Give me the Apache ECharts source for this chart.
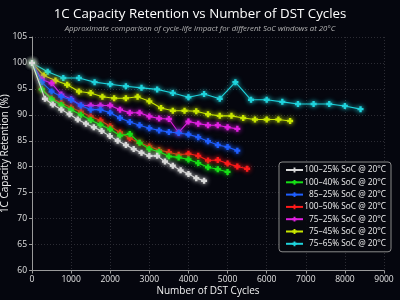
<!DOCTYPE html>
<html>
<head>
<meta charset="utf-8">
<script src="https://cdn.jsdelivr.net/npm/echarts@6/dist/echarts.min.js"></script>
<style>
html,body{margin:0;padding:0;background:#05060e;}
#chart{width:400px;height:300px;}
</style>
</head>
<body>
<div id="chart"></div>
<script>
// cycles (x) and retention (%) per SoC window
var names = ['100–25% SoC @ 20°C','100–40% SoC @ 20°C','85–25% SoC @ 20°C','100–50% SoC @ 20°C','75–25% SoC @ 20°C','75–45% SoC @ 20°C','75–65% SoC @ 20°C'];
var colors = ['#d8d8d8','#16e016','#1f5fff','#ff1a1a','#e020e0','#c8e600','#1fd3dc'];

var x_100_25 = [0,330,530,750,960,1170,1380,1580,1780,1990,2190,2400,2600,2800,3000,3200,3400,3600,3800,4000,4200,4400];
var y_100_25 = [100,93.1,92.0,91.0,90.1,89.1,88.3,87.6,86.9,85.9,85.0,84.2,83.4,82.7,82.1,82.1,81.0,80.2,79.3,78.6,77.8,77.3];

var x_250 = [0,250,500,750,1000,1250,1500,1750,2000,2250,2500,2750,3000,3250,3500,3750,4000,4250,4500,4750,5000,5250,5500];
var y_100_40 = [100,94.9,93.0,91.9,91.0,90.0,89.0,88.1,87.2,86.0,86.3,84.6,83.4,82.9,82.0,81.8,81.4,80.7,79.9,79.5,79.0];
var y_85_25 = [100,96.3,94.5,93.5,92.9,91.8,91.0,91.0,90.4,89.4,88.6,88.0,87.4,87.0,86.7,86.5,86.2,85.7,84.9,84.2,83.8,83.1];
var y_100_50 = [100,95.0,93.2,92.3,91.4,90.6,89.7,88.9,87.8,86.6,85.5,84.6,83.9,83.2,82.8,82.3,82.5,82.1,81.2,81.3,80.6,80.05,79.6];
var y_75_25 = [100,96.8,96.1,93.9,93.0,91.8,91.8,91.8,91.8,91.0,90.4,90.4,89.7,89.3,89.2,86.6,88.7,88.3,88.0,88.0,87.6,87.3];

var x_75_45 = [0,300,600,900,1200,1500,1800,2100,2400,2700,3000,3300,3600,3900,4200,4500,4800,5100,5400,5700,6000,6300,6600];
var y_75_45 = [100,97.6,96.6,95.8,94.5,94.2,93.5,93.2,93.2,93.5,92.6,91.3,90.8,90.8,90.7,90.1,89.8,89.8,89.4,89.1,89.1,89.1,88.8];

var x_75_65 = [0,400,800,1200,1600,2000,2400,2800,3200,3600,4000,4400,4800,5200,5600,6000,6400,6800,7200,7600,8000,8400];
var y_75_65 = [100,98.3,97.1,97.1,96.3,95.9,95.5,95.2,94.9,94.2,93.4,94.0,93.1,96.3,92.9,92.9,92.5,92.1,92.1,92.1,91.7,91.1];

function pairs(xs, ys) {
    var out = [];
    for (var i = 0; i < ys.length; i++) out.push([xs[i], ys[i]]);
    return out;
}

var allData = [
    pairs(x_100_25, y_100_25),
    pairs(x_250, y_100_40),
    pairs(x_250, y_85_25),
    pairs(x_250, y_100_50),
    pairs(x_250, y_75_25),
    pairs(x_75_45, y_75_45),
    pairs(x_75_65, y_75_65)
];

var plus = 'path://M3,0H7V3H10V7H7V10H3V7H0V3H3Z';

var series = [];
for (var i = 0; i < names.length; i++) {
    series.push({
        name: names[i],
        type: 'line',
        data: allData[i],
        symbol: plus,
        symbolSize: 6,
        showSymbol: true,
        lineStyle: {color: colors[i], width: 1.1, shadowColor: colors[i], shadowBlur: 4},
        itemStyle: {color: colors[i], shadowColor: colors[i], shadowBlur: 5},
        z: 10 - i
    });
}

var myChart = echarts.init(document.getElementById('chart'));
var font = '"Open Sans", "Noto Sans", sans-serif';
var option = {
    backgroundColor: '#05060e',
    animation: false,
    textStyle: {fontFamily: font},
    title: {
        text: '1C Capacity Retention vs Number of DST Cycles',
        subtext: 'Approximate comparison of cycle-life impact for different SoC windows at 20°C',
        left: 'center',
        top: 3,
        itemGap: 4,
        textStyle: {color: '#ffffff', fontSize: 13.3, fontWeight: 'normal', fontFamily: font},
        subtextStyle: {color: '#b4b4b4', fontSize: 7.8, fontStyle: 'italic', fontFamily: font}
    },
    grid: {left: 32, right: 16, top: 37, bottom: 29.5, containLabel: false, outerBoundsMode: 'none'},
    legend: {
        orient: 'vertical',
        left: 279,
        top: 162,
        padding: [4, 5, 4, 6],
        itemGap: 4.3,
        itemWidth: 17,
        itemHeight: 6,
        backgroundColor: 'rgba(8,9,16,0.9)',
        borderColor: '#8a8a8a',
        borderWidth: 1,
        borderRadius: 3,
        formatter: function (n) { return '{a|' + n + '}'; },
        textStyle: {
            color: '#f0f0f0', fontSize: 8.3, fontFamily: font,
            rich: {a: {width: 78, align: 'right', fontSize: 8.3, color: '#f0f0f0', fontFamily: font}}
        },
        data: names
    },
    xAxis: {
        type: 'value',
        min: 0, max: 9000, interval: 1000,
        name: 'Number of DST Cycles',
        nameLocation: 'middle',
        nameGap: 16,
        nameMoveOverlap: false,
        nameTextStyle: {color: '#f0f0f0', fontSize: 10},
        axisLine: {show: true, lineStyle: {color: '#9a9a9a'}},
        axisTick: {show: true, length: 3, lineStyle: {color: '#9a9a9a'}},
        axisLabel: {color: '#e0e0e0', fontSize: 8.5, margin: 5, formatter: function (v) { return String(v); }},
        splitLine: {show: true, lineStyle: {color: '#2c2c34', type: [1, 2]}}
    },
    yAxis: {
        type: 'value',
        min: 60, max: 105, interval: 5,
        name: '1C Capacity Retention (%)',
        nameLocation: 'middle',
        nameGap: 22,
        nameMoveOverlap: false,
        nameTextStyle: {color: '#f0f0f0', fontSize: 10},
        axisLine: {show: true, lineStyle: {color: '#9a9a9a'}},
        axisTick: {show: true, length: 3, lineStyle: {color: '#9a9a9a'}},
        axisLabel: {color: '#e0e0e0', fontSize: 8.5, margin: 5},
        splitLine: {show: true, lineStyle: {color: '#2c2c34', type: [1, 2]}}
    },
    series: series
};
myChart.setOption(option);
</script>
</body>
</html>
